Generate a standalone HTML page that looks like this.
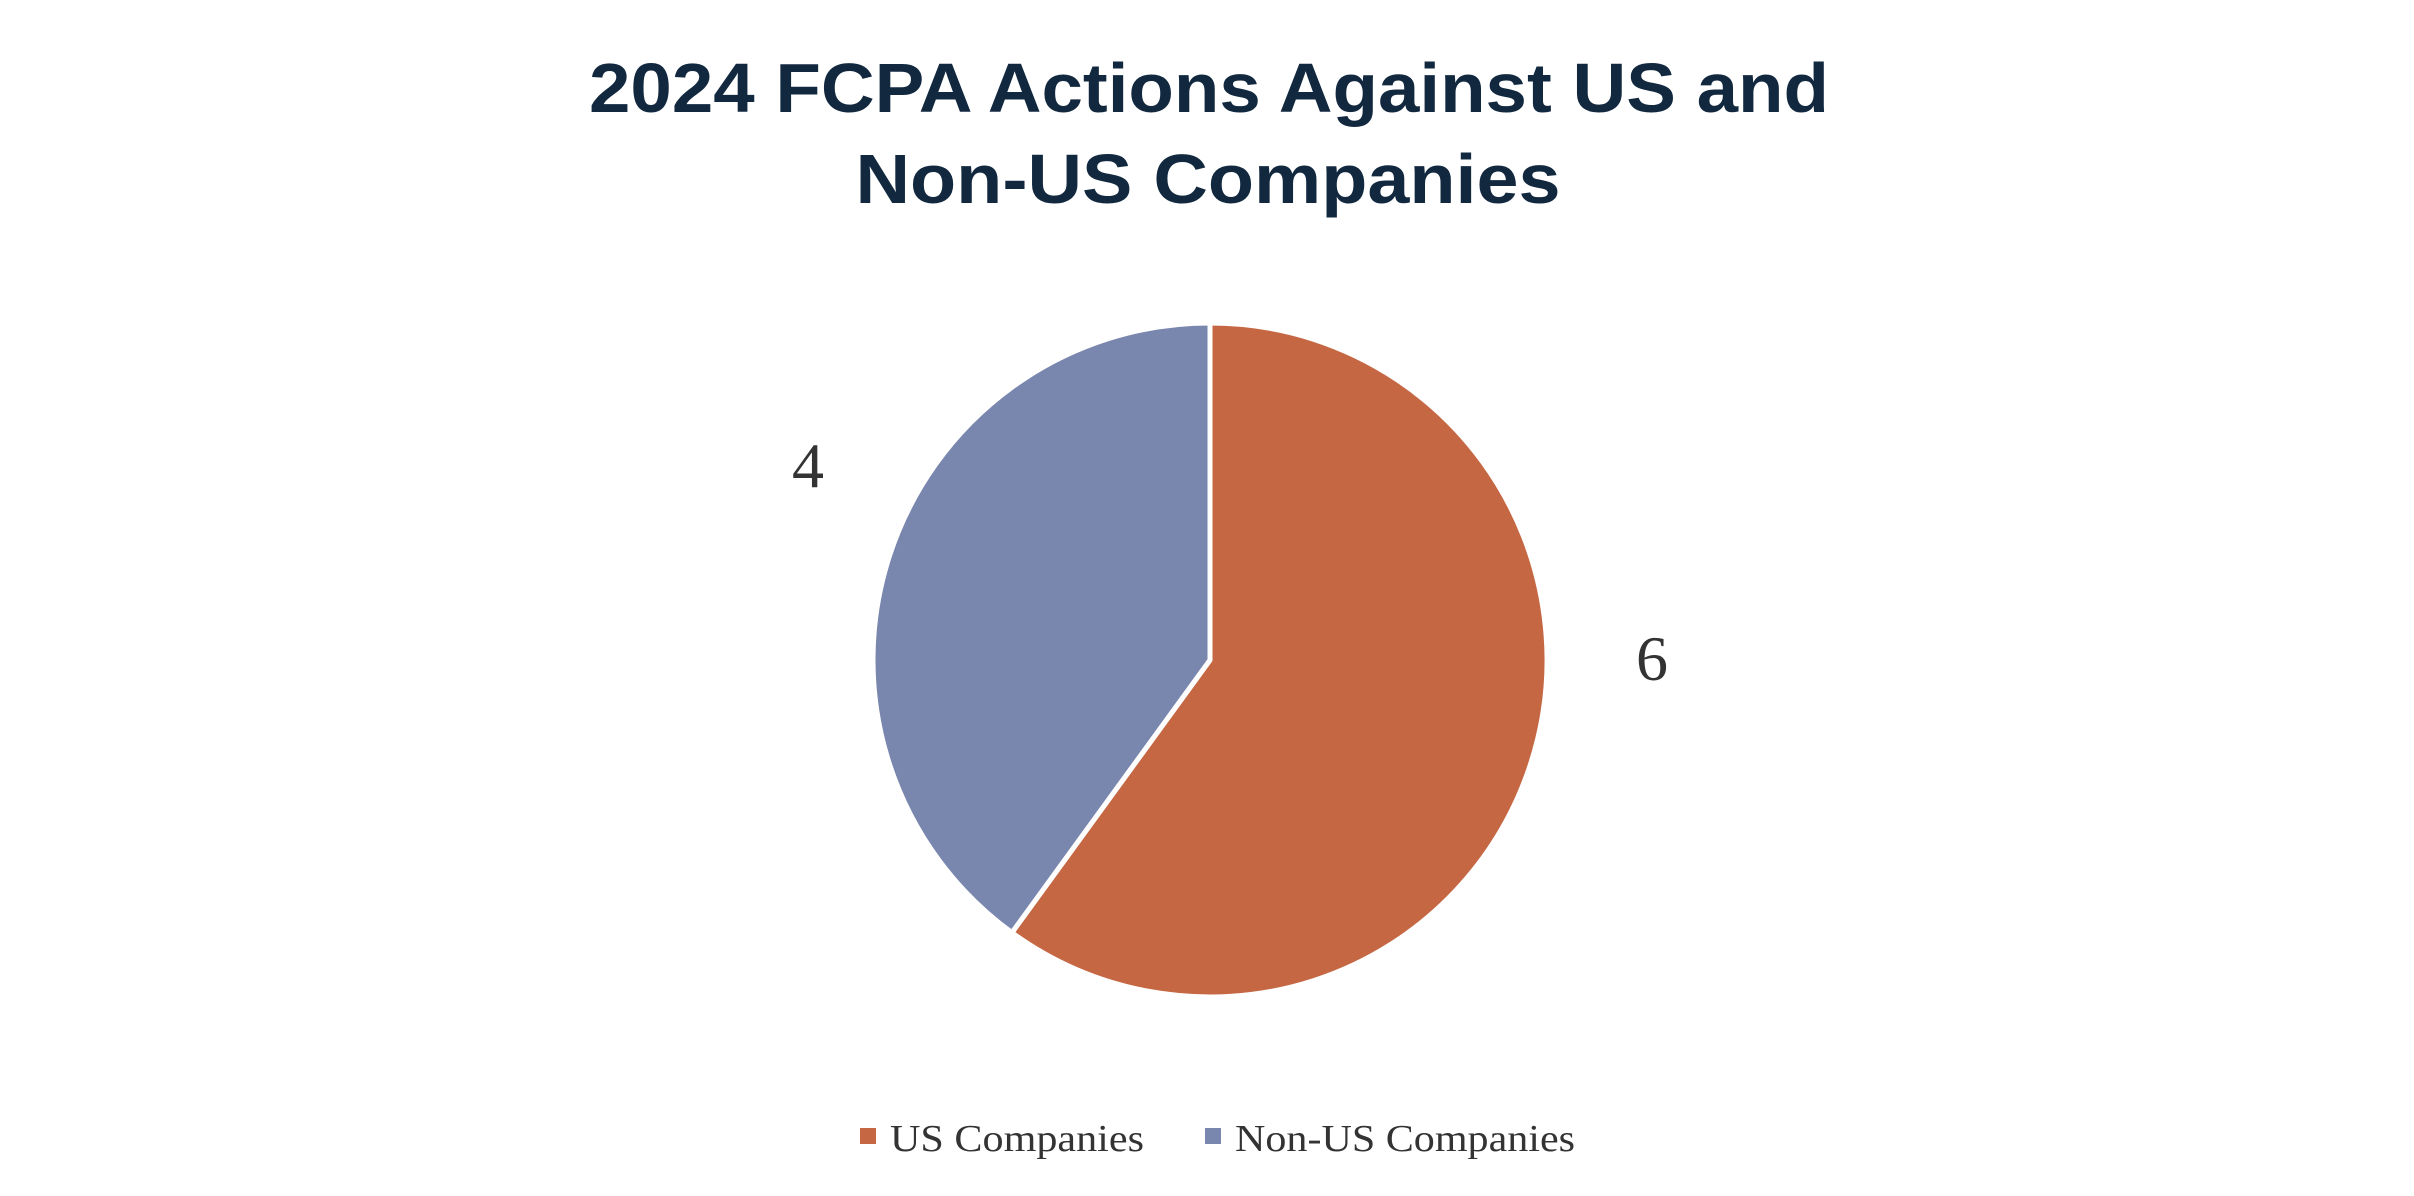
<!DOCTYPE html>
<html><head><meta charset="utf-8"><style>
html,body{margin:0;padding:0;background:#fff;}
svg{display:block;}
</style></head><body>
<svg width="2414" height="1196" viewBox="0 0 2414 1196">
<rect width="2414" height="1196" fill="#fff"/>
<text x="1209" y="112" text-anchor="middle" font-family="Liberation Sans, sans-serif" font-weight="bold" font-size="70" fill="#12283f" textLength="1240" lengthAdjust="spacingAndGlyphs">2024 FCPA Actions Against US and</text>
<text x="1208" y="203" text-anchor="middle" font-family="Liberation Sans, sans-serif" font-weight="bold" font-size="70" fill="#12283f" textLength="705" lengthAdjust="spacingAndGlyphs">Non-US Companies</text>
<g id="slices"></g>
<g id="labels"></g>
<g>
<rect x="860" y="1128" width="16" height="16" fill="#C56743"/>
<text x="890" y="1151" font-family="Liberation Serif, serif" font-size="38" fill="#333" textLength="254" lengthAdjust="spacingAndGlyphs">US Companies</text>
<rect x="1205" y="1128" width="16" height="16" fill="#7986AD"/>
<text x="1235" y="1151" font-family="Liberation Serif, serif" font-size="38" fill="#333" textLength="340" lengthAdjust="spacingAndGlyphs">Non-US Companies</text>
</g>
</svg>
<script>
const categories = ["US Companies", "Non-US Companies"];
const values = [6, 4];
const colors = ["#C56743", "#7986AD"];
const labelPos = [[1652, 680], [808, 487]];
const cx = 1210, cy = 660, r = 337;
const total = values.reduce((a,b)=>a+b,0);
const ns = "http://www.w3.org/2000/svg";
const g = document.getElementById("slices");
const lg = document.getElementById("labels");
let a0 = 0;
values.forEach((v,i)=>{
  const a1 = a0 + v/total*2*Math.PI;
  const x0 = cx + r*Math.sin(a0), y0 = cy - r*Math.cos(a0);
  const x1 = cx + r*Math.sin(a1), y1 = cy - r*Math.cos(a1);
  const large = (a1-a0) > Math.PI ? 1 : 0;
  const p = document.createElementNS(ns,"path");
  p.setAttribute("d",`M${cx},${cy} L${x0},${y0} A${r},${r} 0 ${large} 1 ${x1},${y1} Z`);
  p.setAttribute("fill",colors[i]);
  p.setAttribute("stroke","#fff");
  p.setAttribute("stroke-width","5");
  p.setAttribute("stroke-linejoin","round");
  
  
  g.appendChild(p);
  const t = document.createElementNS(ns,"text");
  t.setAttribute("x",labelPos[i][0]);
  t.setAttribute("y",labelPos[i][1]);
  t.setAttribute("text-anchor","middle");
  t.setAttribute("font-family","Liberation Serif, serif");
  t.setAttribute("font-size","64");
  t.setAttribute("fill","#333");
  t.textContent = values[i];
  
  
  lg.appendChild(t);
  a0 = a1;
});
</script>
</body></html>
